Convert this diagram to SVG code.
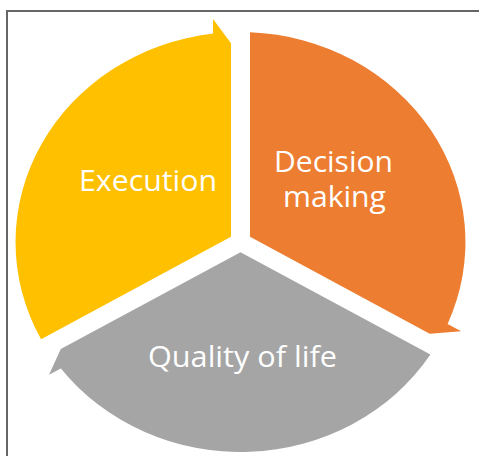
<svg xmlns="http://www.w3.org/2000/svg" width="479" height="456" viewBox="0 0 479 456">
  <style>
    .frame { fill: none; stroke: #666666; stroke-width: 2; }
    .label { font-family: "Open Sans", "Noto Sans", "Liberation Sans", sans-serif; font-size: 29px; fill: #ffffff; }
  </style>
  <rect class="frame" x="7" y="11" width="490" height="470"/>

  <!-- three segments of a circle, each ending in a half arrowhead; drawn round the centre then squashed vertically -->
  <g transform="translate(240.5,242) scale(1,0.9333)">
    <g id="execution">
      <path fill="#FFC000" d="M -9.5 -5.5 L -199.4 104.2 A 225 225 0 0 1 -27.5 -223.3 L -27.5 -239 L -9.5 -213 Z"/>
    </g>
    <g id="decision-making">
      <path fill="#ED7D31" d="M 9.5 -5.5 L 9.5 -224.8 A 225 225 0 0 1 207.1 87.8 L 220.7 95.7 L 189.2 98.3 Z"/>
    </g>
    <g id="quality-of-life">
      <path fill="#A5A5A5" d="M 0 11 L 189.9 120.6 A 225 225 0 0 1 -179.6 135.5 L -191.5 142.3 L -179.7 114.7 Z"/>
    </g>
  </g>

  <text class="label" x="79" y="190.5" textLength="138" lengthAdjust="spacingAndGlyphs">Execution</text>
  <text class="label" x="274" y="171.5" textLength="119" lengthAdjust="spacingAndGlyphs">Decision</text>
  <text class="label" x="283" y="207" textLength="103" lengthAdjust="spacingAndGlyphs">making</text>
  <text class="label" x="148" y="366.5" textLength="189" lengthAdjust="spacingAndGlyphs">Quality of life</text>
</svg>
